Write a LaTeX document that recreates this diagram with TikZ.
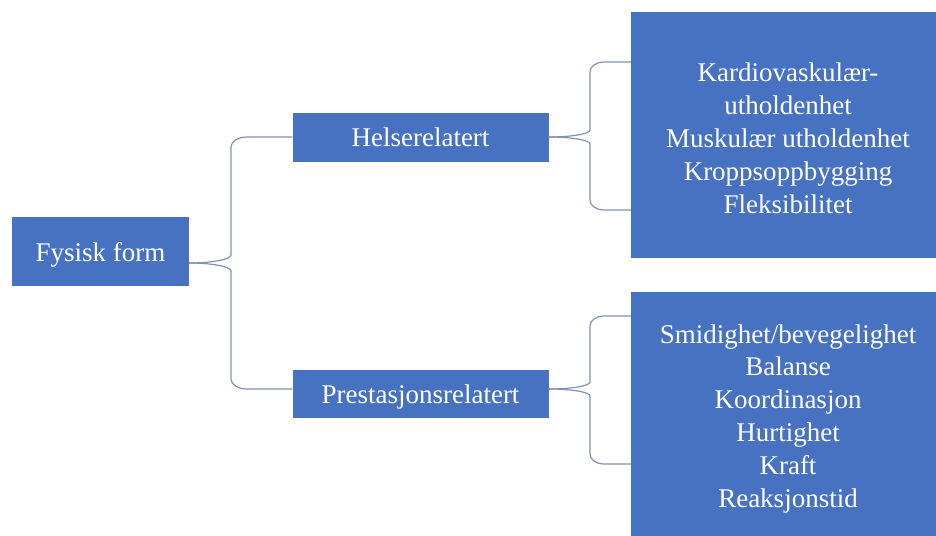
\documentclass[tikz,border=0pt]{standalone}
\usepackage{fontspec}
\setmainfont{Liberation Serif}
\definecolor{boxblue}{RGB}{71,114,194}
\definecolor{linecol}{RGB}{128,146,180}
\begin{document}
\begin{tikzpicture}[x=1pt,y=-1pt,
  box/.style={fill=boxblue, draw=none, text=white, inner sep=0pt,
    font=\fontsize{27pt}{32.8pt}\selectfont, text depth=0pt},
  boxtxt/.style={text=white, inner sep=0pt, align=center,
    font=\fontsize{27pt}{32.8pt}\selectfont, text depth=0pt},
  brace/.style={draw=linecol, line width=1.2pt}]
\useasboundingbox (0,0) rectangle (936,535);

% boxes
\node[box, minimum width=177pt, minimum height=69pt] (fys) at (100.5,251.5) {Fysisk form};
\node[box, minimum width=256pt, minimum height=49pt] (hel) at (420.5,137) {Helserelatert};
\node[box, minimum width=256pt, minimum height=48pt] (pre) at (420.5,394) {Prestasjonsrelatert};
\node[box, minimum width=314pt, minimum height=246pt] (hr) at (788,135) {};
\node[box, minimum width=314pt, minimum height=253pt] (pr) at (788,418.5) {};
\node[boxtxt] (hrt) at (788,138.2) {Kardiovaskulær-\\utholdenhet\\Muskulær utholdenhet\\Kroppsoppbygging\\Fleksibilitet};
\node[boxtxt] (prt) at (788,415.8) {Smidighet/bevegelighet\\Balanse\\Koordinasjon\\Hurtighet\\Kraft\\Reaksjonstid};

% brace tips
\coordinate (t1) at (fys.east |- 0,263);
\coordinate (t2) at (hel.east);
\coordinate (t3) at (pre.east |- 0,389);

% brace 1
\draw[brace] (t1) .. controls (212,263) and (231,259.4) .. (231,255) -- (231,147)
  .. controls (231,141.5) and (238,137) .. (247,137) -- (hel.west);
\draw[brace] (t1) .. controls (212,263) and (231,266.6) .. (231,271) -- (231,379)
  .. controls (231,384.5) and (238,389) .. (247,389) -- (pre.west |- 0,389);

% brace 2
\draw[brace] (t2) .. controls (571,137) and (590,134) .. (590,130) -- (590,72)
  .. controls (590,66.5) and (596,62) .. (604,62) -- (hr.west |- 0,62);
\draw[brace] (t2) .. controls (571,137) and (590,140) .. (590,144) -- (590,200)
  .. controls (590,205.5) and (596,210) .. (604,210) -- (hr.west |- 0,210);

% brace 3
\draw[brace] (t3) .. controls (571,389) and (590,386) .. (590,382) -- (590,326)
  .. controls (590,320.5) and (596,316) .. (604,316) -- (pr.west |- 0,316);
\draw[brace] (t3) .. controls (571,389) and (590,392) .. (590,396) -- (590,454)
  .. controls (590,459.5) and (596,464) .. (604,464) -- (pr.west |- 0,464);
\end{tikzpicture}
\end{document}
